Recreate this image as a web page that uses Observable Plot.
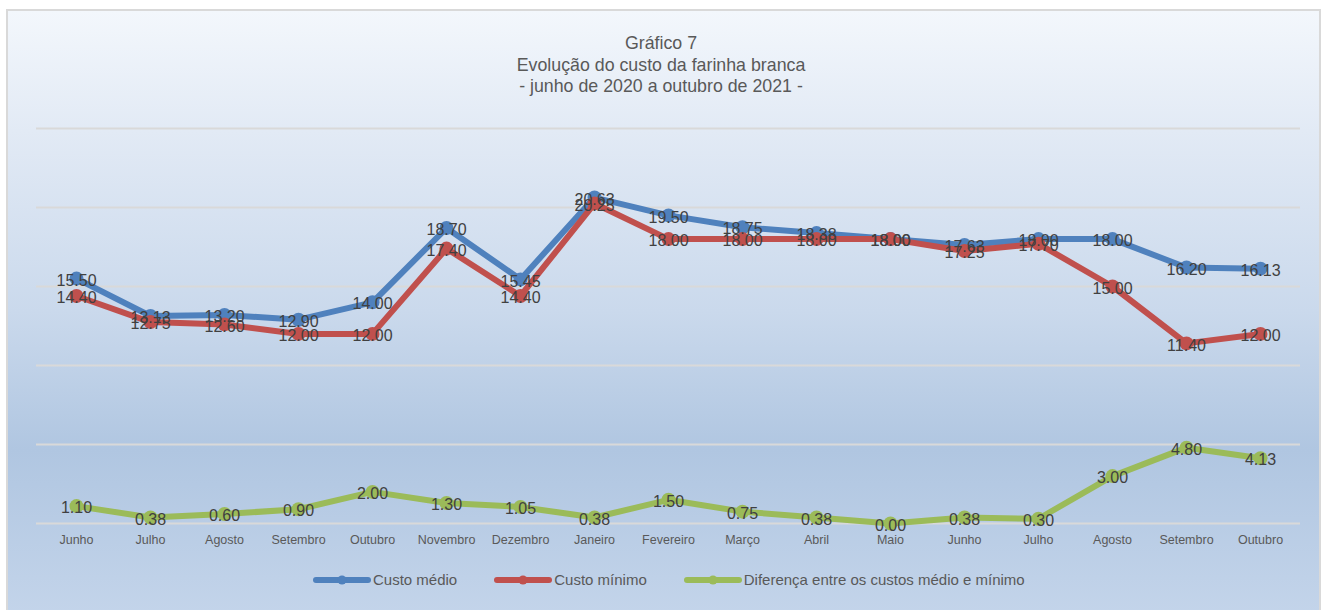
<!DOCTYPE html>
<html>
<head>
<meta charset="utf-8">
<script src="https://cdn.jsdelivr.net/npm/d3@7"></script>
<script src="https://cdn.jsdelivr.net/npm/@observablehq/plot@0.6"></script>
<style>
  html, body { margin: 0; padding: 0; background: #ffffff; width: 1331px; height: 610px; overflow: hidden; }
  #frame {
    position: absolute; left: 6px; top: 9px; width: 1315px; height: 603px;
    border: 2px solid #d9d9d9; border-bottom: none; box-sizing: border-box;
    background: linear-gradient(to bottom, #f3f7fc 0%, #e2eaf5 20%, #cad9ec 50%, #b0c6e1 73%, #c3d4ea 100%);
  }
  #title {
    position: absolute; left: 0; top: 33px; width: 1322px; text-align: center;
    font-family: "Liberation Sans", Arial, sans-serif; font-size: 17.8px; line-height: 21.5px; color: #595959;
  }
  #chart { position: absolute; left: 0; top: 110px; }
  #legend {
    position: absolute; top: 571px; left: 313px; display: flex; align-items: center;
    font-family: "Liberation Sans", Arial, sans-serif; font-size: 15px; color: #595959; white-space: nowrap;
  }
  #legend .item { display: flex; align-items: center; margin-right: 37px; }
  #legend svg { margin-right: 2px; }
</style>
</head>
<body>
<div id="frame"></div>
<div id="title">Gráfico 7<br>Evolução do custo da farinha branca<br>- junho de 2020 a outubro de 2021 -</div>
<div id="chart"></div>
<div id="legend"></div>
<script>
const meses = ["Junho","Julho","Agosto","Setembro","Outubro","Novembro","Dezembro","Janeiro","Fevereiro","Março","Abril","Maio","Junho","Julho","Agosto","Setembro","Outubro"];
const custoMedio  = [15.50, 13.13, 13.20, 12.90, 14.00, 18.70, 15.45, 20.63, 19.50, 18.75, 18.38, 18.00, 17.63, 18.00, 18.00, 16.20, 16.13];
const custoMinimo = [14.40, 12.75, 12.60, 12.00, 12.00, 17.40, 14.40, 20.25, 18.00, 18.00, 18.00, 18.00, 17.25, 17.70, 15.00, 11.40, 12.00];
const diferenca   = [1.10, 0.38, 0.60, 0.90, 2.00, 1.30, 1.05, 0.38, 1.50, 0.75, 0.38, 0.00, 0.38, 0.30, 3.00, 4.80, 4.13];
const seriesNames = ["Custo médio", "Custo mínimo", "Diferença entre os custos médio e mínimo"];
const seriesColors = ["#4f81bd", "#c0504d", "#9bbb59"];
const yTicks = [0, 5, 10, 15, 20, 25];

const seriesValues = [custoMedio, custoMinimo, diferenca];
const rows = seriesValues.map((vals, s) => vals.map((v, i) => ({i, v, s: seriesNames[s]})));

const lineMarks = rows.flatMap((data, s) => [
  Plot.line(data, {x: "i", y: "v", stroke: seriesColors[s], strokeWidth: 6, strokeLinejoin: "round", strokeLinecap: "round"}),
  Plot.dot(data, {x: "i", y: "v", fill: seriesColors[s], r: 7, stroke: "none"})
]);
const labelMarks = rows.map(data =>
  Plot.text(data, {x: "i", y: "v", text: d => d.v.toFixed(2), fill: "#404040", fontSize: 16, dy: 2})
);

const chart = Plot.plot({
  width: 1331,
  height: 445,
  marginLeft: 36,
  marginRight: 31,
  marginTop: 18,
  marginBottom: 32,
  style: {background: "transparent", fontFamily: "'Liberation Sans', Arial, sans-serif", overflow: "visible"},
  x: {type: "band", domain: d3.range(meses.length), padding: 0},
  y: {domain: [0, 25], axis: null},
  marks: [
    Plot.ruleY(yTicks, {stroke: "#d9d9d9", strokeWidth: 2}),
    Plot.axisX({tickSize: 0, tickPadding: 12, fontSize: 12.5, fill: "#595959", tickFormat: i => meses[i], label: null}),
    ...lineMarks,
    ...labelMarks
  ]
});
document.getElementById("chart").appendChild(chart);

const legend = document.getElementById("legend");
seriesNames.forEach((name, s) => {
  const item = document.createElement("div");
  item.className = "item";
  item.innerHTML = `<svg width="58" height="12"><line x1="3" y1="6" x2="55" y2="6" stroke="${seriesColors[s]}" stroke-width="6" stroke-linecap="round"/><circle cx="29" cy="6" r="4.5" fill="${seriesColors[s]}"/></svg><span>${name}</span>`;
  legend.appendChild(item);
});
</script>
</body>
</html>
